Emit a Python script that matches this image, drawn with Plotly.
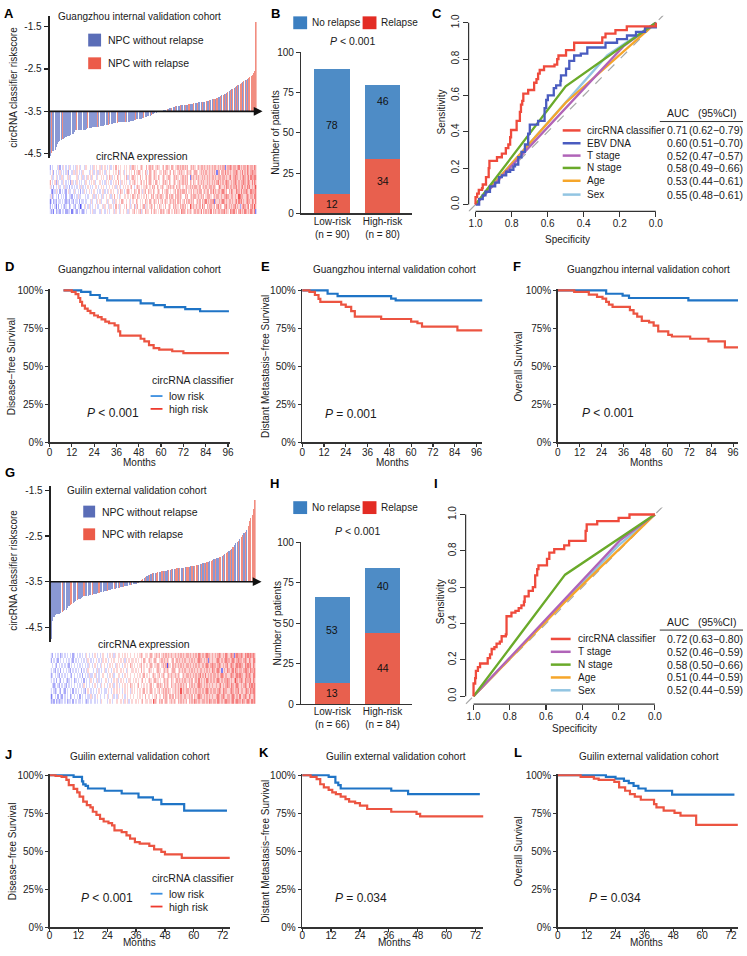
import plotly.graph_objects as go

# ======================= DATA =======================
# ---- Panel A: Guangzhou waterfall (sorted classifier risk scores), relapse status (1 = relapse)
gz_scores = [
    -4.55, -4.47, -4.44, -4.43, -4.40, -4.33, -4.28, -4.23, -4.20, -4.18,
    -4.16, -4.14, -4.12, -4.10, -4.09, -4.08, -4.07, -4.06, -4.04, -4.03,
    -3.98, -3.95, -3.95, -3.95, -3.94, -3.94, -3.94, -3.93, -3.93, -3.93,
    -3.91, -3.90, -3.89, -3.88, -3.88, -3.87, -3.87, -3.87, -3.86, -3.86,
    -3.86, -3.85, -3.85, -3.85, -3.84, -3.83, -3.83, -3.82, -3.81, -3.80,
    -3.80, -3.79, -3.78, -3.78, -3.77, -3.77, -3.76, -3.76, -3.76, -3.75,
    -3.75, -3.75, -3.75, -3.74, -3.74, -3.74, -3.73, -3.72, -3.72, -3.71,
    -3.70, -3.69, -3.69, -3.68, -3.67, -3.67, -3.66, -3.65, -3.64, -3.63,
    -3.62, -3.61, -3.60, -3.58, -3.57, -3.56, -3.54, -3.53, -3.52, -3.51,
    -3.49, -3.48, -3.48, -3.47, -3.47, -3.46, -3.45, -3.44, -3.43, -3.42,
    -3.41, -3.40, -3.39, -3.38, -3.38, -3.37, -3.37, -3.36, -3.36, -3.36,
    -3.35, -3.35, -3.34, -3.34, -3.33, -3.33, -3.32, -3.32, -3.31, -3.31,
    -3.30, -3.30, -3.29, -3.29, -3.28, -3.28, -3.27, -3.27, -3.26, -3.25,
    -3.25, -3.24, -3.23, -3.22, -3.22, -3.21, -3.20, -3.18, -3.17, -3.15,
    -3.14, -3.12, -3.11, -3.10, -3.08, -3.06, -3.04, -3.02, -3.00, -2.98,
    -2.97, -2.95, -2.93, -2.91, -2.89, -2.87, -2.85, -2.83, -2.81, -2.79,
    -2.77, -2.75, -2.73, -2.71, -2.69, -2.67, -2.64, -2.60, -2.55, -1.40,
]
gz_status = ("0100000000" "1000000000" "0010000000" "0100000001" "0000000010"
             "0000010000" "0010000000" "1000000100" "0001000010"
             "0010001000" "1001000100" "0100100010" "0100010010" "0100110100"
             "1010101010" "1010101101" "0101111111")
# circRNA expression heatmap, one digit per patient (0 = strong low, 4 = neutral, 8 = strong high)
gz_heat = [
    "3231423324 3342233413 4324343234 3443453344 4354434543 4453544354 5445354456 4545635465 5546456545 4656545664 5465655476 6546565456 5665746565 6574656566 5667565476 6756467565 7656576571",
    "2434314243 4323442343 3243302435 4353434543 3445354435 5434645354 4546453546 3564545635 5456546454 6545464565 4656554656 5645486565 6556475646 5665564675 6546675656 5675652567 6567467586",
    "1342324334 3432332432 4334243343 3443534435 4534445354 4353544546 5445453454 4654545465 5465456546 4564565456 5656465645 6465656564 5656465675 6566716556 5676565665 6567576756 5676657657",
    "3523434243 4342443324 3435334443 4344453534 5435345445 3546454354 4554545465 5465454546 4546564565 5655456465 6546565654 4656456566 5565656456 6654565665 5656676556 6565587665 5676566577",
    "4213353424 3432453343 5343424354 3454345443 4345534354 5454435465 4345654546 5546453564 4655465456 5464556545 4556465656 6564556465 5656645656 6465756566 5676564657 6557665756 6765576667",
    "5342434534 4353342434 3434535343 4543434554 3454543445 4545354534 5454545643 4565454556 5454656465 4565445656 5654656545 4565565656 6556456565 5665665457 6556576566 5667565675 6576756568",
    "6434525343 3543434253 4354343435 5434545344 4543435454 3454546435 4545435456 5454564546 4565454654 5456565465 4565456556 5656465465 4565656556 5656565675 6565676556 5676565667 6567657576",
    "4533453435 5344535344 4453445354 3545354435 4454543546 5345465454 4546354565 5454645456 4565456546 5456545665 4565654556 5656416565 6565565656 5656656566 6566565675 5676656567 6567576677",
    "3452434353 4343524435 5354343544 4435453453 3545435445 4454546354 5345454546 4556545465 3465456544 5546565456 4655456565 5456565456 6545656565 5656565166 4665756565 5667656575 6576567666",
    "2434443524 3543435343 4354534435 5443435454 4535454345 3454645454 4545453565 5454565446 4565654565 5456456554 6545565656 5656456565 4565665656 5656566565 6566156676 5665675656 6576566576",
]

# ---- Panel G: Guilin waterfall
gl_scores = [
    -4.76, -4.36, -4.28, -4.22, -4.21, -4.20, -4.20, -4.19, -4.17, -4.15,
    -4.13, -4.12, -4.08, -4.04, -4.01, -3.99, -3.97, -3.95, -3.93, -3.91,
    -3.89, -3.87, -3.85, -3.83, -3.82, -3.82, -3.81, -3.81, -3.80, -3.80,
    -3.79, -3.78, -3.77, -3.76, -3.75, -3.74, -3.73, -3.72, -3.72, -3.71,
    -3.70, -3.70, -3.69, -3.68, -3.67, -3.67, -3.66, -3.65, -3.64, -3.64,
    -3.63, -3.62, -3.62, -3.61, -3.60, -3.59, -3.59, -3.58, -3.58, -3.57,
    -3.56, -3.55, -3.54, -3.53, -3.52, -3.51, -3.46, -3.44, -3.41, -3.39,
    -3.37, -3.36, -3.35, -3.34, -3.32, -3.31, -3.30, -3.30, -3.29, -3.29,
    -3.28, -3.27, -3.27, -3.26, -3.26, -3.25, -3.25, -3.24, -3.23, -3.23,
    -3.22, -3.22, -3.21, -3.20, -3.20, -3.20, -3.19, -3.19, -3.18, -3.18,
    -3.17, -3.17, -3.16, -3.16, -3.15, -3.15, -3.14, -3.13, -3.13, -3.12,
    -3.11, -3.10, -3.09, -3.08, -3.07, -3.06, -3.05, -3.04, -3.03, -3.01,
    -3.00, -2.99, -2.97, -2.96, -2.95, -2.93, -2.91, -2.89, -2.87, -2.85,
    -2.83, -2.81, -2.79, -2.75, -2.70, -2.66, -2.64, -2.60, -2.56, -2.52,
    -2.48, -2.44, -2.40, -2.36, -2.28, -2.18, -2.10, -2.04, -1.90, -1.70,
]
gl_status = ("0000000010" "0000110001" "0000100000" "1000010000" "0100001000" "1001000010" "000100"
             "1101001010" "0110010100" "1010011010" "0101100101" "1100101010" "0110100110"
             "1011010100" "0101101011" "1111")
gl_heat = [
    "2324232334 3423342434 3343432343 4434343544 4345434454 4543545345 4454545645 5455486546 5645654565 6546565656 4656576565 5665657656 6576565676 6567567665 7656765767",
    "1343424324 3434234343 4243434335 3434543443 4534453435 4454345454 5445454546 4554545645 5465654656 4656565565 5656465676 6565656565 5676567656 6567656575 5676576567",
    "3432343243 2434342434 3434324543 4343454343 3454345454 5434545435 4545454564 5456545456 4565656545 5656585656 6565656566 5656765656 6567657665 5676566756 6567657677",
    "4323432434 3243434343 4343543434 3454343545 4345453454 3454545465 4545645454 5456454565 6546565465 5656565656 4656565676 6565656565 5656756567 6576567656 5676576767",
    "3434243243 4323434234 3434243435 4343534344 5434345453 4545434554 5454545645 4565456554 5456565465 4565656565 5656456575 6565765656 5676565667 6565686567 6576667576",
    "2343432434 3434324343 4342434353 3453434454 4345453445 5434545454 4545454564 5454565456 4565456565 5656545656 6565656567 5657565656 6565676565 5676567676 6567676577",
    "3432434243 4343243434 3424343544 4343534345 3454345454 4545435445 5454546454 4565454565 5456565456 6545656565 5656565656 6565656576 5676515657 6567576566 5677657667",
    "4343243434 3432434343 4343434354 3454343545 4345454354 5434545465 4545456454 5456545565 4565606546 5656565656 6565656565 5656765676 6567656567 5676567676 6576767576",
    "2434324343 4343432434 3434343543 4345434354 5434545445 4545354545 5454545465 4565456545 5656565456 4565656565 5656565676 6565616565 5676565676 6567656766 5676576577",
    "3243434234 3434342343 4343435434 3454343454 4345453545 5454545454 4545456545 5456545656 4565656565 5656565656 6565656576 5656766565 6567656576 5676167667 6576767676",
]
score_ticks = [-1.5, -2.5, -3.5, -4.5]
score_base = -3.5

# ---- Panels B / H: stacked bars
risk_groups = ["Low-risk", "High-risk"]
gz_relapse = [12, 34]
gz_norelapse = [78, 46]
gl_relapse = [13, 44]
gl_norelapse = [53, 40]

# ---- Panels C / I: ROC curves (specificity, sensitivity)
gz_cls_spec = [1.0, 1.0, 0.991, 0.982, 0.964, 0.960, 0.942, 0.927, 0.923, 0.881,
               0.854, 0.832, 0.818, 0.808, 0.803, 0.772, 0.754, 0.748, 0.741, 0.735,
               0.708, 0.675, 0.662, 0.653, 0.644, 0.620, 0.562, 0.547, 0.540, 0.498,
               0.453, 0.297, 0.279, 0.224, 0.161, 0.015, 0.0]
gz_cls_sens = [0.0, 0.04, 0.06, 0.08, 0.09, 0.11, 0.15, 0.20, 0.24, 0.26,
               0.28, 0.31, 0.33, 0.37, 0.41, 0.46, 0.51, 0.55, 0.57, 0.61,
               0.63, 0.67, 0.69, 0.72, 0.74, 0.76, 0.77, 0.80, 0.82, 0.85,
               0.89, 0.92, 0.94, 0.96, 0.98, 0.98, 1.0]
gz_ebv_spec = [1.0, 0.982, 0.98, 0.96, 0.945, 0.92, 0.891, 0.87, 0.854, 0.83,
               0.808, 0.79, 0.781, 0.763, 0.745, 0.726, 0.708, 0.699, 0.653, 0.617,
               0.608, 0.599, 0.566, 0.553, 0.529, 0.526, 0.498, 0.48, 0.453, 0.416,
               0.38, 0.279, 0.215, 0.16, 0.11, 0.06, 0.0]
gz_ebv_sens = [0.0, 0.0, 0.03, 0.05, 0.07, 0.10, 0.12, 0.15, 0.16, 0.18,
               0.19, 0.21, 0.22, 0.26, 0.29, 0.33, 0.39, 0.44, 0.46, 0.53,
               0.575, 0.60, 0.64, 0.656, 0.68, 0.71, 0.747, 0.79, 0.82, 0.83,
               0.864, 0.89, 0.91, 0.93, 0.95, 0.975, 1.0]
gz_t_spec, gz_t_sens = [1.0, 0.18, 0.0], [0.0, 0.87, 1.0]
gz_n_spec, gz_n_sens = [1.0, 0.50, 0.0], [0.0, 0.65, 1.0]
gz_age_spec, gz_age_sens = [1.0, 0.50, 0.0], [0.0, 0.56, 1.0]
gz_sex_spec, gz_sex_sens = [1.0, 0.27, 0.0], [0.0, 0.82, 1.0]

gl_cls_spec = [1.0, 1.0, 0.991, 0.987, 0.976, 0.964, 0.922, 0.909, 0.9, 0.885,
               0.873, 0.855, 0.845, 0.822, 0.818, 0.791, 0.769, 0.751, 0.736, 0.722,
               0.718, 0.696, 0.673, 0.66, 0.649, 0.642, 0.595, 0.582, 0.555, 0.5,
               0.473, 0.382, 0.376, 0.318, 0.2, 0.14, 0.0]
gl_cls_sens = [0.0, 0.07, 0.10, 0.14, 0.16, 0.18, 0.21, 0.23, 0.26, 0.27,
               0.29, 0.30, 0.33, 0.34, 0.44, 0.46, 0.47, 0.485, 0.50, 0.52,
               0.55, 0.58, 0.60, 0.665, 0.70, 0.72, 0.756, 0.79, 0.81, 0.83,
               0.855, 0.91, 0.946, 0.964, 0.982, 1.0, 1.0]
gl_t_spec, gl_t_sens = [1.0, 0.19, 0.0], [0.0, 0.86, 1.0]
gl_n_spec, gl_n_sens = [1.0, 0.495, 0.0], [0.0, 0.669, 1.0]
gl_age_spec, gl_age_sens = [1.0, 0.50, 0.0], [0.0, 0.515, 1.0]
gl_sex_spec, gl_sex_sens = [1.0, 0.20, 0.0], [0.0, 0.83, 1.0]

gz_auc_names = ["circRNA classifier", "EBV DNA", "T stage", "N stage", "Age", "Sex"]
gz_auc = ["0.71", "0.60", "0.52", "0.58", "0.53", "0.55"]
gz_ci = ["(0.62\u22120.79)", "(0.51\u22120.70)", "(0.47\u22120.57)", "(0.49\u22120.66)", "(0.44\u22120.61)", "(0.48\u22120.61)"]
gl_auc_names = ["circRNA classifier", "T stage", "N stage", "Age", "Sex"]
gl_auc = ["0.72", "0.52", "0.58", "0.51", "0.52"]
gl_ci = ["(0.63\u22120.80)", "(0.46\u22120.59)", "(0.50\u22120.66)", "(0.44\u22120.59)", "(0.44\u22120.59)"]

# ---- Kaplan-Meier curves (months, survival %)
gz_dfs_low_t = [7.5, 17, 22, 27, 31, 49, 56, 62, 73, 81, 96.5]
gz_dfs_low_s = [100, 99, 97, 95, 93.5, 91.5, 90.3, 89, 87.7, 86.3, 86.3]
gz_dfs_high_t = [7.5, 12, 14, 15.5, 16.5, 17.5, 19, 20.5, 22, 24, 26, 28, 30, 32, 35, 37, 38, 49, 51, 53.5, 56, 59, 66, 72, 96.5]
gz_dfs_high_s = [100, 99, 97.5, 95, 92.5, 90, 88, 86.5, 85, 83.5, 82.5, 81, 79.5, 78.4, 77, 73, 70.3, 68.2, 66.5, 64, 62, 61, 60, 58.7, 58.7]
gz_dmfs_low_t = [0, 14, 19.5, 49, 51.5, 99.3]
gz_dmfs_low_s = [100, 97.8, 96.2, 94.6, 93.5, 93.5]
gz_dmfs_high_t = [0, 4, 7, 9, 10, 21.5, 24, 27, 29, 43.5, 60, 63.5, 66, 85.5, 99.3]
gz_dmfs_high_s = [100, 99, 97, 94.5, 92.4, 90.7, 89.2, 86.4, 82.7, 81.2, 79.5, 78.4, 76.2, 73.7, 73.7]
gz_os_low_t = [0, 26.5, 35.5, 39, 71.5, 98.7]
gz_os_low_s = [100, 97.8, 96.6, 95, 93.5, 93.5]
gz_os_high_t = [0, 9, 17, 21.5, 24.5, 26.5, 28, 30, 39.5, 41.5, 43.5, 46, 50, 52.5, 55, 60.5, 62.5, 72.5, 82.5, 91.5, 98.7]
gz_os_high_s = [100, 99, 97.2, 95.7, 94.6, 92.4, 90.7, 89.2, 87, 84.8, 82.7, 80, 79, 76.8, 73, 70.8, 69.7, 68.2, 66.5, 62.6, 62.6]

gl_dfs_low_t = [0, 10, 13.5, 14, 15, 16, 23, 30, 37, 43, 46.5, 56, 73.8]
gl_dfs_low_s = [100, 99, 96, 94, 93, 91.3, 89.8, 88, 85.4, 83.9, 81, 76.7, 76.7]
gl_dfs_high_t = [0, 2.5, 5, 7, 8, 10, 11.5, 12.5, 14, 15.5, 17, 18, 19.5, 21, 22.5, 24.5, 26, 27, 30, 32, 33.5, 35.5, 37.5, 41.5, 43.5, 46.5, 48, 55, 75]
gl_dfs_high_s = [100, 99.5, 99, 97, 93.5, 91, 88.7, 86, 82.6, 80.4, 78.9, 76, 74, 71.3, 69.6, 68.5, 67, 63.7, 62.6, 60.4, 58.3, 56, 55, 53.5, 51.3, 49.6, 48, 45.7, 45.7]
gl_dmfs_low_t = [0, 11, 13.8, 15, 16, 37, 44, 73.8]
gl_dmfs_low_s = [100, 99, 95.2, 93.5, 91.3, 89.8, 87.6, 87.6]
gl_dmfs_high_t = [0, 3.5, 6, 7.5, 9, 11, 12.5, 14, 16, 18, 19.5, 22, 24, 27, 37, 47.5, 49, 75.3]
gl_dmfs_high_s = [100, 99, 97.4, 94.1, 92, 90.4, 88.7, 87.6, 86, 84.3, 82.6, 81.7, 80, 77.8, 76, 74.6, 73, 73]
gl_os_low_t = [0, 20, 24, 27.5, 29.5, 31.5, 33.5, 36.5, 47.5, 73.4]
gl_os_low_s = [100, 99, 97.8, 96.3, 94.8, 93, 91.3, 89.8, 87.2, 87.2]
gl_os_high_t = [0, 9.5, 15, 17, 23.5, 25.5, 28, 30, 32, 34.5, 40, 41, 44, 48.5, 51, 57.5, 74.8]
gl_os_high_s = [100, 99, 97.8, 97, 95.7, 92, 89.8, 87.6, 86, 83.9, 81, 78.9, 76.7, 75.2, 73.5, 67.4, 67.4]

surv_ticks = [0, 25, 50, 75, 100]
gz_month_ticks = [0, 12, 24, 36, 48, 60, 72, 84, 96]
gl_month_ticks = [0, 12, 24, 36, 48, 60, 72]

# ======================= STYLE / LAYOUT =======================
W, H = 747, 956
FONT = "Liberation Sans, Arial, sans-serif"
TXT = "#1a1a1a"
BLUE_BAR, RED_BAR = "#8a98d4", "#f18d80"
BLUE_LEG, RED_LEG = "#5a6db7", "#ec5b49"
BLUE_STK, RED_STK = "#4e8cc6", "#e8604e"
BLUE_STK_LEG, RED_STK_LEG = "#3b7fc1", "#e32c24"
KM_BLUE, KM_RED = "#1f74c6", "#ec5441"
ROC_COL = {"circRNA classifier": "#ef4a3c", "EBV DNA": "#4a5cc0", "T stage": "#b064b8",
           "N stage": "#6aaa2a", "Age": "#f6a62a", "Sex": "#92c5e2"}
HEAT = [[0, "#2222ee"], [0.5, "#ffffff"], [1, "#ee2222"]]


def px(x): return x / W
def py(y): return 1 - y / H
def dx(a, b): return [a / W, b / W]
def dy(a, b): return [1 - b / H, 1 - a / H]
def xn(i): return "x" if i == 1 else f"x{i}"
def yn(i): return "y" if i == 1 else f"y{i}"
def xk(i): return "xaxis" if i == 1 else f"xaxis{i}"
def yk(i): return "yaxis" if i == 1 else f"yaxis{i}"


fig = go.Figure()
L = dict(width=W, height=H, autosize=False, margin=dict(l=0, r=0, t=0, b=0),
         paper_bgcolor="white", plot_bgcolor="rgba(0,0,0,0)", showlegend=False,
         barmode="stack", font=dict(family=FONT, size=10, color=TXT))
ANN, SHP = [], []


def ann(x, y, text, size=10, xa="center", ya="middle", angle=0, color=TXT):
    ANN.append(dict(x=px(x), y=py(y), xref="paper", yref="paper", text=text, showarrow=False,
                    xanchor=xa, yanchor=ya, textangle=angle,
                    font=dict(size=size, color=color, family=FONT)))


def rect(x0, y0, x1, y1, color):
    SHP.append(dict(type="rect", xref="paper", yref="paper", x0=px(x0), x1=px(x1),
                    y0=py(y1), y1=py(y0), fillcolor=color, line=dict(width=0)))


def hseg(x0, x1, y, color, width):
    SHP.append(dict(type="line", xref="paper", yref="paper", x0=px(x0), x1=px(x1),
                    y0=py(y), y1=py(y), line=dict(color=color, width=width)))


TICKF = dict(size=10, color="#222")


def waterfall(i, scores, status, heat, xd, yd, yr, hyd, arrow_px):
    n = len(scores)
    cols = [RED_BAR if k < len(status) and status[k] == "1" else BLUE_BAR for k in range(n)]
    fig.add_trace(go.Bar(x=list(range(n)), y=[s - score_base for s in scores], base=score_base,
                         width=0.86, marker=dict(color=cols, line=dict(width=0)),
                         xaxis=xn(i), yaxis=yn(i)))
    L[xk(i)] = dict(domain=dx(*xd), range=[-0.5, n - 0.5], visible=False, anchor=yn(i), fixedrange=True)
    L[yk(i)] = dict(domain=dy(*yd), range=yr, tickvals=score_ticks,
                    ticktext=[f"{t:.1f}" for t in score_ticks], ticks="outside", ticklen=4,
                    tickwidth=1.2, tickcolor="#222", showline=True, linewidth=2, linecolor="#222",
                    showgrid=False, zeroline=False, anchor=xn(i), tickfont=TICKF)
    z = [[(int(c) - 4) / 4 for c in r.replace(" ", "")] for r in heat]
    fig.add_trace(go.Heatmap(z=z, x0=0, dx=1, y0=0, dy=1, colorscale=HEAT, zmin=-1.3, zmax=1.3,
                             showscale=False, xaxis=xn(i + 1), yaxis=yn(i + 1)))
    L[xk(i + 1)] = dict(domain=dx(*xd), range=[-0.5, n - 0.5], visible=False, anchor=yn(i + 1))
    L[yk(i + 1)] = dict(domain=dy(*hyd), range=[-0.5, len(z) - 0.5], visible=False, anchor=xn(i + 1))
    ANN.append(dict(xref="paper", x=px(arrow_px), yref=yn(i), y=score_base, axref="pixel",
                    ayref="pixel", ax=-(arrow_px - xd[0]), ay=0, text="", showarrow=True,
                    arrowhead=2, arrowsize=1.1, arrowwidth=1.6, arrowcolor="#111"))


def stacked(i, relapse, norelapse, xd, yd, xr, width, lab_pos):
    xs = [0, 1]
    fig.add_trace(go.Bar(x=xs, y=relapse, width=width, marker=dict(color=RED_STK, line=dict(width=0)),
                         xaxis=xn(i), yaxis=yn(i)))
    fig.add_trace(go.Bar(x=xs, y=norelapse, width=width, marker=dict(color=BLUE_STK, line=dict(width=0)),
                         xaxis=xn(i), yaxis=yn(i)))
    ttext = [f"{g}<br>(n = {a + b})" for g, a, b in zip(risk_groups, relapse, norelapse)]
    L[xk(i)] = dict(domain=dx(*xd), range=xr, tickvals=xs, ticktext=ttext, ticks="",
                    showline=True, linewidth=1.3, linecolor="#333", showgrid=False, zeroline=False,
                    anchor=yn(i), tickfont=TICKF, ticklabelstandoff=-2)
    L[yk(i)] = dict(domain=dy(*yd), range=[0, 100], tickvals=[0, 25, 50, 75, 100], ticks="outside",
                    ticklen=4, tickwidth=1.2, tickcolor="#333", showline=True, linewidth=1.3,
                    linecolor="#333", showgrid=False, zeroline=False, anchor=xn(i), tickfont=TICKF)
    for k in range(2):
        for val, ypos in zip([relapse[k], norelapse[k]], lab_pos[k]):
            ANN.append(dict(xref=xn(i), yref=yn(i), x=xs[k], y=ypos, text=str(val), showarrow=False,
                            font=dict(size=10.5, color="#111", family=FONT)))


def roc(i, curves, xd, yd, xr, yr):
    fig.add_trace(go.Scatter(x=[xr[0], xr[1]], y=[1 - xr[0], 1 - xr[1]], mode="lines",
                             line=dict(color="#a8a8a8", width=1.2, dash="dash"),
                             xaxis=xn(i), yaxis=yn(i)))
    for spec, sens, name, shape in curves:
        fig.add_trace(go.Scatter(x=spec, y=sens, mode="lines",
                                 line=dict(color=ROC_COL[name], width=2.3, shape=shape),
                                 xaxis=xn(i), yaxis=yn(i)))
    tv = [1.0, 0.8, 0.6, 0.4, 0.2, 0.0]
    L[xk(i)] = dict(domain=dx(*xd), range=xr, tickvals=tv, ticktext=[f"{t:.1f}" for t in tv],
                    ticks="outside", ticklen=5, tickwidth=1.2, tickcolor="#333", showline=False,
                    showgrid=False, zeroline=False, anchor=yn(i), tickfont=TICKF,
                    ticklabelstandoff=-2)
    L[yk(i)] = dict(domain=dy(*yd), range=yr, tickvals=tv, ticktext=[f"{t:.1f}" for t in tv],
                    ticks="outside", ticklen=5, tickwidth=1.2, tickcolor="#333", showline=False,
                    showgrid=False, zeroline=False, anchor=xn(i), tickangle=-90, tickfont=TICKF)
    SHP.append(dict(type="line", xref=xn(i) + " domain", yref=yn(i), x0=0, x1=0, y0=0, y1=1,
                    line=dict(color="#333", width=1.2)))
    SHP.append(dict(type="line", xref=xn(i), yref=yn(i) + " domain", x0=1, x1=0, y0=0, y1=0,
                    line=dict(color="#333", width=1.2)))


def km(i, curves, xd, yd, xmax, xticks, standoff):
    for t, s, c in curves:
        fig.add_trace(go.Scatter(x=t, y=s, mode="lines", line=dict(color=c, width=2.2, shape="hv"),
                                 xaxis=xn(i), yaxis=yn(i)))
    L[xk(i)] = dict(domain=dx(*xd), range=[0, xmax], tickvals=xticks, ticks="outside", ticklen=3,
                    tickwidth=1.2, tickcolor="#333", showline=True, linewidth=1.5, linecolor="#333",
                    showgrid=False, zeroline=False, anchor=yn(i), tickfont=TICKF,
                    ticklabelstandoff=standoff)
    L[yk(i)] = dict(domain=dy(*yd), range=[0, 101], tickvals=surv_ticks,
                    ticktext=[f"{t}%" for t in surv_ticks], ticks="outside", ticklen=3,
                    tickwidth=1.2, tickcolor="#333", showline=True, linewidth=1.5, linecolor="#333",
                    showgrid=False, zeroline=False, anchor=xn(i), tickfont=TICKF)


# ---------------- Row 1 ----------------
waterfall(1, gz_scores, gz_status, gz_heat, (47, 256), (10, 154), [-4.6, -1.25], (161, 211), 262)
stacked(3, gz_relapse, gz_norelapse, (301, 413), (47, 210), [-0.62, 1.59], 0.71, [[6, 55], [20, 70]])
roc(4, [(gz_sex_spec, gz_sex_sens, "Sex", "linear"), (gz_age_spec, gz_age_sens, "Age", "linear"),
        (gz_t_spec, gz_t_sens, "T stage", "linear"), (gz_n_spec, gz_n_sens, "N stage", "linear"),
        (gz_ebv_spec, gz_ebv_sens, "EBV DNA", "hv"), (gz_cls_spec, gz_cls_sens, "circRNA classifier", "hv")],
    (470, 667), (10, 208), [1.0385, -0.044], [-0.038, 1.038])

# ---------------- Row 2 ----------------
km(5, [(gz_dfs_low_t, gz_dfs_low_s, KM_BLUE), (gz_dfs_high_t, gz_dfs_high_s, KM_RED)],
   (47, 229), (286.5, 442), 97, gz_month_ticks, -3)
km(6, [(gz_dmfs_low_t, gz_dmfs_low_s, KM_BLUE), (gz_dmfs_high_t, gz_dmfs_high_s, KM_RED)],
   (302, 484), (286.5, 442), 99.3, gz_month_ticks, -3)
km(7, [(gz_os_low_t, gz_os_low_s, KM_BLUE), (gz_os_high_t, gz_os_high_s, KM_RED)],
   (560, 742), (286.5, 442), 98.7, gz_month_ticks, -3)

# ---------------- Row 3 ----------------
waterfall(8, gl_scores, gl_status, gl_heat, (48, 255), (486, 644), [-4.82, -1.4], (655, 707), 261)
stacked(10, gl_relapse, gl_norelapse, (301, 413), (543, 707), [-0.62, 1.59], 0.70, [[7, 46], [22.5, 73]])
roc(11, [(gl_sex_spec, gl_sex_sens, "Sex", "linear"), (gl_age_spec, gl_age_sens, "Age", "linear"),
         (gl_t_spec, gl_t_sens, "T stage", "linear"), (gl_n_spec, gl_n_sens, "N stage", "linear"),
         (gl_cls_spec, gl_cls_sens, "circRNA classifier", "hv")],
    (467, 667), (508, 707), [1.0437, -0.049], [-0.0435, 1.038])

# ---------------- Row 4 ----------------
km(12, [(gl_dfs_low_t, gl_dfs_low_s, KM_BLUE), (gl_dfs_high_t, gl_dfs_high_s, KM_RED)],
   (47, 229), (777.5, 933), 75, gl_month_ticks, -5)
km(13, [(gl_dmfs_low_t, gl_dmfs_low_s, KM_BLUE), (gl_dmfs_high_t, gl_dmfs_high_s, KM_RED)],
   (302, 485), (777.5, 933), 75.3, gl_month_ticks, -5)
km(14, [(gl_os_low_t, gl_os_low_s, KM_BLUE), (gl_os_high_t, gl_os_high_s, KM_RED)],
   (560, 742), (777.5, 933), 74.9, gl_month_ticks, -5)

# ======================= TEXT =======================
for lab, x, y in [("A", 6, 8), ("B", 275, 8), ("C", 438, 8), ("D", 7, 264), ("E", 265, 264),
                  ("F", 519, 264), ("G", 7, 472), ("H", 274, 484), ("I", 437, 484),
                  ("J", 6, 758), ("K", 263, 756), ("L", 520, 756)]:
    ann(x, y, f"<b>{lab}</b>", size=13, color="#000")

GZ = "Guangzhou internal validation cohort"
GL = "Guilin external validation cohort"
for t, x, y in [(GZ, 138, 11), (GZ, 138, 267), (GZ, 395, 267), (GZ, 652, 267),
                (GL, 135, 491), (GL, 138, 760), (GL, 397, 760), (GL, 652, 760)]:
    ann(x, y, t, size=10)

for t, x, y in [("circRNA classifier riskscore", 11, 82), ("Number of patients", 275, 128),
                ("Sensitivity", 443, 107), ("Disease\u2212free Survival", 9, 365),
                ("Distant Metastasis\u2212free Survival", 265, 365), ("Overall Survival", 520, 365),
                ("circRNA classifier riskscore", 11, 571), ("Number of patients", 277, 625),
                ("Sensitivity", 442, 603), ("Disease\u2212free Survival", 9, 856),
                ("Distant Metastasis\u2212free Survival", 265, 856), ("Overall Survival", 520, 856)]:
    ann(x, y, t, size=10, angle=-90)

for t, x, y in [("Specificity", 570, 236), ("Specificity", 577, 732),
                ("Months", 138, 462), ("Months", 393, 462), ("Months", 650, 462)]:
    ann(x, y, t, size=10)
for x in (138, 395, 650):
    ann(x, 956, "Months", size=10, ya="bottom")

ann(140, 152, "circRNA expression", size=10.5)
ann(142, 646, "circRNA expression", size=10.5)

# waterfall legends
for (x0, y0, x1, y1, c, t) in [(86, 28, 99, 41, BLUE_LEG, "NPC without relapse"),
                               (86, 52, 99, 64, RED_LEG, "NPC with relapse"),
                               (81, 506, 93, 518, BLUE_LEG, "NPC without relapse"),
                               (81, 529, 93, 541, RED_LEG, "NPC with relapse")]:
    rect(x0, y0, x1, y1, c)
    ann(x1 + 5, (y0 + y1) / 2, t, size=10.5, xa="left")

# stacked-bar legends and p values
for yc in (17, 508):
    rect(293, yc - 6.5, 307, yc + 6.5, BLUE_STK_LEG)
    ann(310, yc, "No relapse", size=10, xa="left")
    rect(363, yc - 6.5, 377, yc + 6.5, RED_STK_LEG)
    ann(380, yc, "Relapse", size=10, xa="left")
ann(353, 35, "<i>P</i> < 0.001", size=10.5)
ann(358, 532, "<i>P</i> < 0.001", size=10.5)


# ROC legends + AUC tables
def roc_legend(names, aucs, cis, lx0, lx1, rows, head_y, line_y):
    for nm, a, c, yy in zip(names, aucs, cis, rows):
        hseg(lx0, lx1, yy, ROC_COL[nm], 2.5)
        ann(lx1 + 5, yy, nm, size=10, xa="left")
        ann(668, yy, a, size=10.5, xa="left")
        ann(690, yy, c, size=10.5, xa="left")
    ann(668, head_y, "AUC", size=10.5, xa="left")
    ann(700, head_y, "(95%CI)", size=10.5, xa="left")
    hseg(663, 747, line_y, "#333", 1)


roc_legend(gz_auc_names, gz_auc, gz_ci, 565, 583, [126, 139, 151.5, 164, 177, 191], 108, 117)
roc_legend(gl_auc_names, gl_auc, gl_ci, 553, 573, [641, 654, 667, 680, 693], 624, 632)

# KM legends and p values
for top in (379, 883):
    ann(148, top, "circRNA classifier", size=10.5, xa="left")
    hseg(149, 161, top + 16, "#3a8ee0", 1.8)
    ann(166, top + 16, "low risk", size=10.5, xa="left")
    hseg(149, 161, top + 29, "#ee3a2e", 1.8)
    ann(166, top + 29, "high risk", size=10.5, xa="left")

for t, x, y in [("<i>P</i> < 0.001", 83, 412), ("<i>P</i> = 0.001", 323, 413),
                ("<i>P</i> < 0.001", 582, 412), ("<i>P</i> < 0.001", 77, 903),
                ("<i>P</i> = 0.034", 333, 903), ("<i>P</i> = 0.034", 590, 903)]:
    ann(x, y, t, size=12, xa="left")

L["annotations"] = ANN
L["shapes"] = SHP
fig.update_layout(**L)

PIN = ("var gd=document.getElementById('{plot_id}');"
       "gd.style.position='fixed';gd.style.top='0px';gd.style.left='0px';gd.style.margin='0px';"
       "document.documentElement.style.margin='0px';document.documentElement.style.padding='0px';"
       "document.documentElement.style.overflow='hidden';"
       "document.body.style.margin='0px';document.body.style.padding='0px';"
       "document.body.style.overflow='hidden';")
fig.write_html("out.html", config={"displayModeBar": False, "staticPlot": True}, post_script=PIN)
